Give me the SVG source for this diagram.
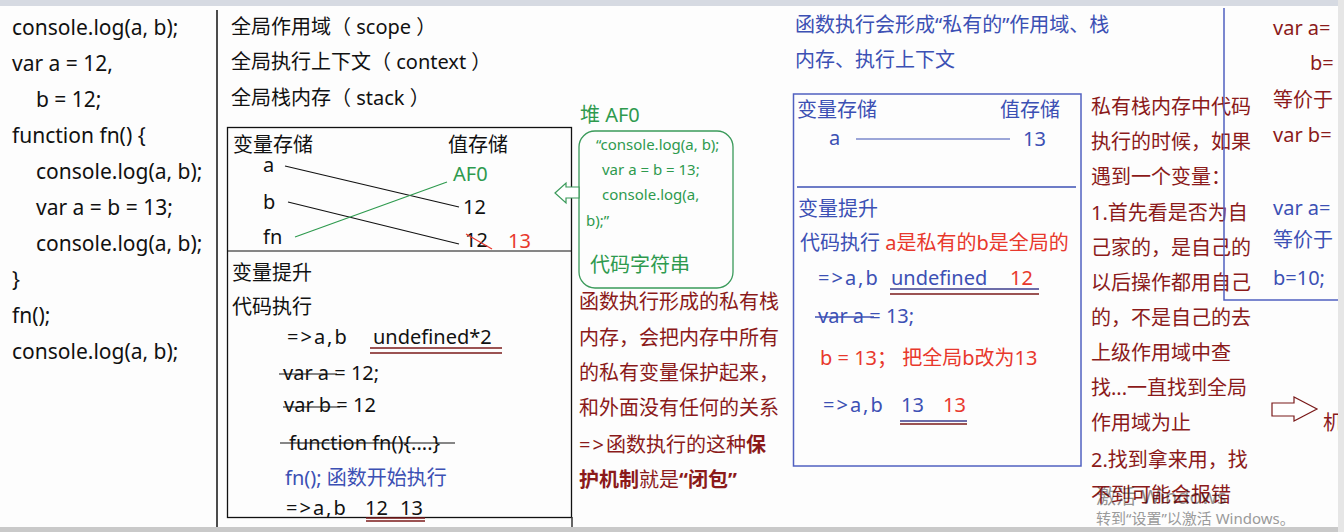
<svg xmlns="http://www.w3.org/2000/svg" width="1344" height="532" viewBox="0 0 1344 532">
<defs>
<style>
text{font-family:"Noto Sans","Noto Sans CJK SC",sans-serif;font-size:20px;fill:#111}
.code{font-size:21px}
.g{fill:#2e9a4e}
.gs{fill:#2e9a4e;font-size:15px}
.r{fill:#e8382c}
.dr{fill:#8b1a1a}
.b{fill:#3c50b4}
.bold{font-weight:bold}
.arr{letter-spacing:2px}
.ln{stroke:#111;stroke-width:1.2;fill:none}
.ul{stroke:#7a1a1a;stroke-width:1.5;fill:none}
.bl{stroke:#5060c0;stroke-width:1.5;fill:none}
.wm{fill:#9a9a9a;font-size:15px}
</style>
</defs>
<rect x="0" y="0" width="1344" height="532" fill="#fdfdfd"/>
<rect x="0" y="0" width="1344" height="6" fill="#d6dae2"/>
<rect x="0" y="527" width="1344" height="5" fill="#c9c9c9"/>

<g id="code" class="code">
<text x="12" y="35" class="code">console.log(a, b);</text>
<text x="12" y="71" class="code">var a = 12,</text>
<text x="36" y="107" class="code">b = 12;</text>
<text x="12" y="143" class="code">function fn() {</text>
<text x="36" y="179" class="code">console.log(a, b);</text>
<text x="36" y="215" class="code">var a = b = 13;</text>
<text x="36" y="251" class="code">console.log(a, b);</text>
<text x="12" y="287" class="code">}</text>
<text x="12" y="323" class="code">fn();</text>
<text x="12" y="359" class="code">console.log(a, b);</text>
</g>
<line x1="217" y1="10" x2="217" y2="527" stroke="#111" stroke-width="1.5"/>

<g id="global-headers">
<text x="231" y="34">全局作用域（ scope ）</text>
<text x="231" y="69">全局执行上下文（ context ）</text>
<text x="231" y="105">全局栈内存（ stack ）</text>
</g>

<g id="global-stack">
<rect x="227.5" y="127.5" width="344" height="390" fill="none" stroke="#111" stroke-width="1.3"/>
<line x1="572" y1="517" x2="572" y2="527" stroke="#333" stroke-width="1.5"/>
<line x1="227" y1="251" x2="571" y2="251" class="ln"/>
<text x="233" y="152">变量存储</text>
<text x="448" y="152">值存储</text>
<text x="263" y="172">a</text>
<text x="263" y="209">b</text>
<text x="263" y="244">fn</text>
<text x="453" y="181" class="g">AF0</text>
<text x="463" y="214">12</text>
<text x="465" y="247">12</text>
<text x="508" y="248" class="r">13</text>
<text x="232" y="280">变量提升</text>
<text x="232" y="314">代码执行</text>
<text x="287" y="344" class="arr">=&gt;a,b</text>
<text x="373" y="344">undefined*2</text>
<text x="283" y="380">var a = 12;</text>
<text x="284" y="412">var b = 12</text>
<text x="289" y="450">function fn(){....}</text>
<text x="285" y="485" class="b">fn();  函数开始执行</text>
<text x="286" y="515" class="arr">=&gt;a,b</text>
<text x="365" y="515">12</text>
<text x="400" y="515">13</text>
</g>

<g id="heap">
<text x="580" y="122" class="g">堆 AF0</text>
<rect x="579" y="131" width="154" height="157" rx="16" fill="none" stroke="#3a9a5a" stroke-width="1.3"/>
<text x="596" y="150" class="gs">“console.log(a, b);</text>
<text x="602" y="175" class="gs">var a = b = 13;</text>
<text x="602" y="200" class="gs">console.log(a,</text>
<text x="586" y="226" class="gs">b);”</text>
<text x="590" y="272" class="g">代码字符串</text>
</g>

<g id="closure-note">
<text x="579" y="309" class="dr">函数执行形成的私有栈</text>
<text x="579" y="345" class="dr">内存，会把内存中所有</text>
<text x="579" y="380" class="dr">的私有变量保护起来，</text>
<text x="579" y="415" class="dr">和外面没有任何的关系</text>
<text x="579" y="452" class="dr"><tspan class="arr">=&gt;</tspan>函数执行的这种<tspan class="bold">保</tspan></text>
<text x="579" y="487" class="dr"><tspan class="bold">护机制</tspan>就是<tspan class="bold">“闭包”</tspan></text>
</g>

<g id="private-header">
<text x="795" y="32" class="b">函数执行会形成“私有的”作用域、栈</text>
<text x="795" y="67" class="b">内存、执行上下文</text>
</g>

<g id="private-stack">
<rect x="793.5" y="94" width="287.5" height="372" fill="none" stroke="#5060c0" stroke-width="1.5"/>
<line x1="797" y1="187" x2="1076" y2="187" stroke="#3c50b4" stroke-width="1.3"/>
<text x="797" y="117" class="b">变量存储</text>
<text x="1000" y="117" class="b">值存储</text>
<text x="829" y="145" class="b">a</text>
<line x1="856" y1="139" x2="1010" y2="139" stroke="#3c50b4" stroke-width="1.2"/>
<text x="1023" y="146" class="b">13</text>
<text x="798" y="216" class="b">变量提升</text>
<text x="800" y="250" class="b">代码执行 <tspan class="r">a是私有的b是全局的</tspan></text>
<text x="818" y="285" class="b arr">=&gt;a,b</text>
<text x="891" y="285" class="b">undefined</text>
<text x="1010" y="285" class="r">12</text>
<text x="818" y="323" class="b">var a = 13;</text>
<text x="820" y="365" class="r">b = 13；  把全局b改为13</text>
<text x="823" y="412" class="b arr">=&gt;a,b</text>
<text x="901" y="412" class="b">13</text>
<text x="943" y="412" class="r">13</text>
</g>

<g id="lookup-note">
<text x="1091" y="114" class="dr">私有栈内存中代码</text>
<text x="1091" y="149" class="dr">执行的时候，如果</text>
<text x="1091" y="184" class="dr">遇到一个变量：</text>
<text x="1091" y="220" class="dr">1.首先看是否为自</text>
<text x="1091" y="255" class="dr">己家的，是自己的</text>
<text x="1091" y="290" class="dr">以后操作都用自己</text>
<text x="1091" y="325" class="dr">的，不是自己的去</text>
<text x="1091" y="360" class="dr">上级作用域中查</text>
<text x="1091" y="395" class="dr">找...一直找到全局</text>
<text x="1091" y="430" class="dr">作用域为止</text>
<text x="1091" y="467" class="dr">2.找到拿来用，找</text>
<text x="1091" y="502" class="dr">不到可能会报错</text>
</g>

<g id="side-snippet">
<polyline points="1224,8 1224,300 1340,300" class="bl"/>
<text x="1273" y="35" class="dr">var a=</text>
<text x="1310" y="70" class="dr">b=</text>
<text x="1273" y="107" class="dr">等价于</text>
<text x="1273" y="142" class="dr">var b=</text>
<text x="1273" y="215" class="b">var a=</text>
<text x="1273" y="247" class="b">等价于</text>
<text x="1273" y="285" class="b">b=10;</text>
<text x="1323" y="430" class="dr">机</text>
</g>

<g id="connectors">
<line x1="285" y1="166" x2="459" y2="207" class="ln"/>
<line x1="288" y1="202" x2="459" y2="244" class="ln"/>
<line x1="295" y1="237" x2="447" y2="182" stroke="#2e9a4e" stroke-width="1.2"/>
<line x1="466" y1="234" x2="492" y2="249" stroke="#e8382c" stroke-width="1.2"/>
<line x1="370" y1="348" x2="502" y2="348" class="ul"/>
<line x1="370" y1="353" x2="502" y2="353" class="ul"/>
<line x1="279" y1="374" x2="337" y2="374" class="ln"/>
<line x1="283" y1="407" x2="340" y2="407" class="ln"/>
<line x1="280" y1="443" x2="455" y2="443" class="ln"/>
<line x1="366" y1="518" x2="425" y2="518" class="ul"/>
<line x1="366" y1="521" x2="425" y2="521" class="ul"/>
<polygon points="555,193 566,183 566,187 579,187 579,198 566,198 566,203" fill="#fff" stroke="#3a9a5a" stroke-width="1.2"/>
<line x1="890" y1="289" x2="1039" y2="289" stroke="#3c3c8c" stroke-width="1.5"/>
<line x1="890" y1="294" x2="1039" y2="294" class="ul"/>
<line x1="815" y1="317" x2="874" y2="317" stroke="#3c50b4" stroke-width="1.3"/>
<line x1="900" y1="421" x2="967" y2="421" stroke="#3c3c8c" stroke-width="1.5"/>
<line x1="900" y1="424" x2="967" y2="424" class="ul"/>
<polygon points="1272,403 1294,403 1294,397 1317,409 1294,421 1294,416 1272,416" fill="#fff" stroke="#7a1a1a" stroke-width="1.2"/>
</g>

<g id="watermark">
<text x="1096" y="504" fill="#999" opacity="0.45" font-size="20">激活 Windows</text>
<text x="1096" y="524" class="wm">转到“设置”以激活 Windows。</text>
</g>
<rect x="1338" y="0" width="6" height="532" fill="#e6e6e6"/>
</svg>
